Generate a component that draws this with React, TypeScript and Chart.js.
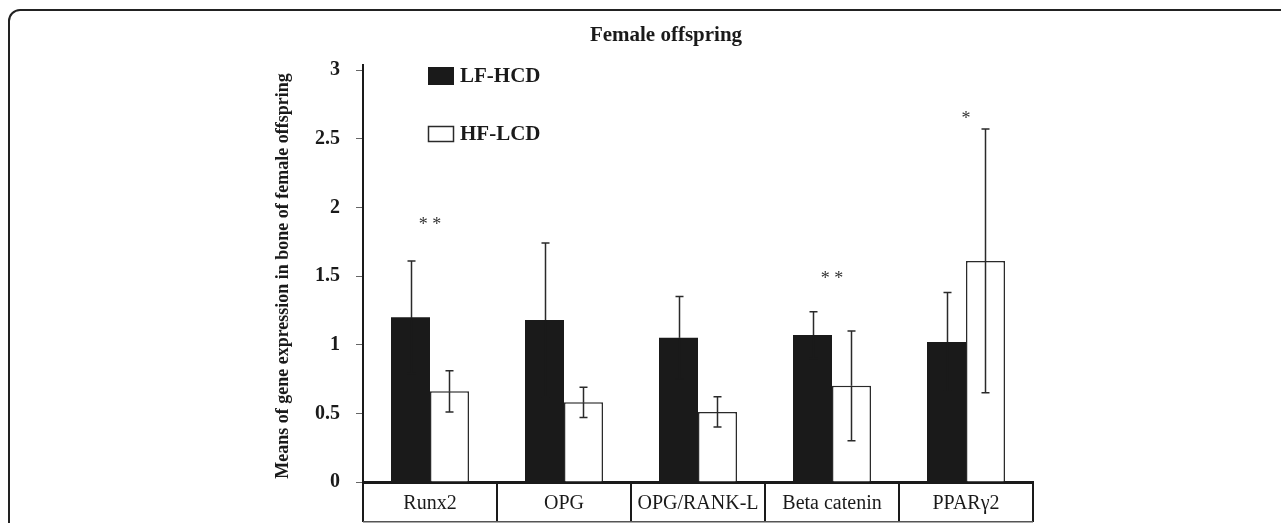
import React, { useEffect, useRef } from 'react';
import { Chart, registerables } from 'chart.js';

Chart.register(...registerables);

const chartTitle = 'Female offspring';
const yAxisTitle = 'Means of gene expression in bone of female offspring';
const categories = ['Runx2', 'OPG', 'OPG/RANK-L', 'Beta catenin', 'PPARγ2'];
const seriesNames = ['LF-HCD', 'HF-LCD'];
const lfHcdMeans = [1.2, 1.18, 1.05, 1.07, 1.02];
const lfHcdErr = [0.41, 0.56, 0.3, 0.17, 0.36];
const hfLcdMeans = [0.66, 0.58, 0.51, 0.7, 1.61];
const hfLcdErr = [0.15, 0.11, 0.11, 0.4, 0.96];
const sigMarks = ['**', '', '', '**', '*'];
const sigLevels: (number | null)[] = [1.89, null, null, 1.5, 2.66];
const yMin = 0;
const yMax = 3;
const yStep = 0.5;

const SERIF = '"Liberation Serif", "Times New Roman", Times, serif';
const INK = '#1a1a1a';

const overlayPlugin = {
  id: 'overlay',
  afterDatasetsDraw(chart: any) {
    const ctx = chart.ctx;
    const ys = chart.scales.y;
    const errs = [lfHcdErr, hfLcdErr];
    ctx.save();
    ctx.lineWidth = 1.5;
    chart.data.datasets.forEach((ds: any, di: number) => {
      const meta = chart.getDatasetMeta(di);
      meta.data.forEach((bar: any, i: number) => {
        const v = ds.data[i];
        const e = errs[di][i];
        const x = Math.round(bar.x) + 0.5;
        const mid = ys.getPixelForValue(v);
        const top = ys.getPixelForValue(v + e);
        const bot = ys.getPixelForValue(v - e);
        // upper whisker
        ctx.strokeStyle = '#2a2a2a';
        ctx.beginPath();
        ctx.moveTo(x, top);
        ctx.lineTo(x, mid);
        ctx.moveTo(x - 4, top);
        ctx.lineTo(x + 4, top);
        ctx.stroke();
        // lower whisker (hidden inside the dark bars)
        ctx.strokeStyle = di === 0 ? INK : '#2a2a2a';
        ctx.beginPath();
        ctx.moveTo(x, mid);
        ctx.lineTo(x, bot);
        ctx.moveTo(x - 4, bot);
        ctx.lineTo(x + 4, bot);
        ctx.stroke();
      });
    });
    // significance marks
    const m0 = chart.getDatasetMeta(0);
    const m1 = chart.getDatasetMeta(1);
    ctx.fillStyle = '#333';
    ctx.font = `18px ${SERIF}`;
    ctx.textAlign = 'center';
    ctx.textBaseline = 'middle';
    sigMarks.forEach((mark, i) => {
      const lvl = sigLevels[i];
      if (!mark || lvl === null) return;
      const x = (m0.data[i].x + m1.data[i].x) / 2;
      ctx.fillText(mark.split('').join(' '), x, ys.getPixelForValue(lvl) + 3);
    });
    ctx.restore();
  },
  afterDraw(chart: any) {
    const ctx = chart.ctx;
    const area = chart.chartArea;
    ctx.save();
    // chart title
    ctx.fillStyle = INK;
    ctx.font = `bold 21px ${SERIF}`;
    ctx.textAlign = 'center';
    ctx.textBaseline = 'alphabetic';
    ctx.fillText(chartTitle, (area.left + area.right) / 2 - 32, 41);

    // legend
    const bx = area.left + 65;
    const rows = [76, 134];
    rows.forEach((ry, i) => {
      if (i === 0) {
        ctx.fillStyle = INK;
        ctx.fillRect(bx, ry - 9, 26, 18);
      } else {
        ctx.fillStyle = '#fff';
        ctx.fillRect(bx, ry - 8, 26, 16);
        ctx.strokeStyle = '#2a2a2a';
        ctx.lineWidth = 1.5;
        ctx.strokeRect(bx + 0.5, ry - 7.5, 25, 15);
      }
      ctx.fillStyle = INK;
      ctx.font = `bold 21px ${SERIF}`;
      ctx.textAlign = 'left';
      ctx.textBaseline = 'middle';
      ctx.fillText(seriesNames[i], bx + 32, ry + 1);
    });

    // y axis line extends slightly above top tick
    ctx.strokeStyle = INK;
    ctx.lineWidth = 2;
    ctx.beginPath();
    ctx.moveTo(area.left, area.top - 6);
    ctx.lineTo(area.left, area.top);
    ctx.stroke();

    // table bottom line
    ctx.strokeStyle = '#555';
    ctx.lineWidth = 1.5;
    ctx.beginPath();
    ctx.moveTo(area.left, chart.height - 1.25);
    ctx.lineTo(area.right, chart.height - 1.25);
    ctx.stroke();
    ctx.restore();
  },
};

export default function App() {
  const ref = useRef<HTMLCanvasElement>(null);
  useEffect(() => {
    const chart = new Chart(ref.current as HTMLCanvasElement, {
      type: 'bar',
      data: {
        labels: categories,
        datasets: [
          {
            label: seriesNames[0],
            data: lfHcdMeans,
            backgroundColor: INK,
            borderWidth: 0,
            categoryPercentage: 0.582,
            barPercentage: 1,
          },
          {
            label: seriesNames[1],
            data: hfLcdMeans,
            backgroundColor: '#ffffff',
            borderColor: '#2a2a2a',
            borderWidth: 1.5,
            borderSkipped: 'bottom',
            categoryPercentage: 0.582,
            barPercentage: 1,
          },
        ],
      },
      options: {
        responsive: false,
        animation: false,
        layout: { padding: { left: 268, right: 248, top: 70, bottom: 0 } },
        plugins: {
          legend: { display: false },
          title: { display: false },
          tooltip: { enabled: false },
        },
        scales: {
          x: {
            type: 'category',
            offset: true,
            grid: {
              offset: true,
              drawOnChartArea: false,
              drawTicks: true,
              tickLength: 40,
              color: INK,
              lineWidth: 2,
            },
            border: { display: true, width: 3, color: INK },
            ticks: {
              color: INK,
              padding: -30,
              maxRotation: 0,
              autoSkip: false,
              font: { family: SERIF, size: 20 },
            },
            afterFit: (s: any) => {
              s.height = 41;
            },
          },
          y: {
            min: yMin,
            max: yMax,
            grid: {
              drawOnChartArea: false,
              drawTicks: true,
              tickLength: 7,
              color: '#666',
              lineWidth: 1,
            },
            border: { display: true, width: 2, color: INK },
            ticks: {
              stepSize: yStep,
              color: INK,
              padding: 16,
              font: { family: SERIF, size: 20, weight: 'bold' },
              callback: (v: any) => String(Number(v)),
            },
            title: {
              display: true,
              text: yAxisTitle,
              color: INK,
              font: { family: SERIF, size: 18, weight: 'bold' },
              padding: { top: 5, bottom: 0 },
            },
            afterFit: (s: any) => {
              s.width = 95;
            },
          },
        },
      },
      plugins: [overlayPlugin],
    });
    return () => chart.destroy();
  }, []);

  return (
    <div
      style={{
        position: 'fixed',
        left: 0,
        top: 0,
        width: 1281,
        height: 523,
        overflow: 'hidden',
        background: '#fff',
      }}
    >
      <div
        style={{
          position: 'absolute',
          left: 8,
          top: 9,
          width: 1400,
          height: 700,
          border: '2px solid #222',
          borderRadius: 12,
          boxSizing: 'border-box',
        }}
      />
      <canvas
        ref={ref}
        width={1281}
        height={523}
        style={{ position: 'absolute', left: 0, top: 0 }}
      />
    </div>
  );
}
